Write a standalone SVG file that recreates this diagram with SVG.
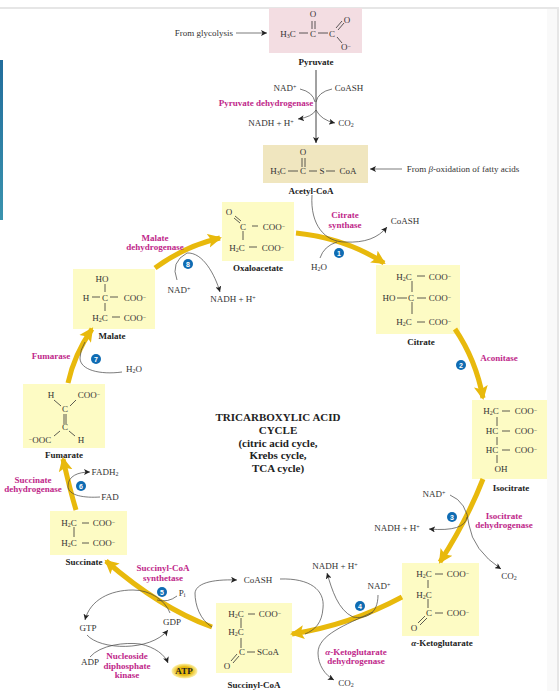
<svg xmlns="http://www.w3.org/2000/svg" width="559" height="691" viewBox="0 0 559 691">
<style>
text{font-family:"Liberation Serif",serif;font-size:9px;fill:#333;text-anchor:middle}
.n{font-weight:bold;fill:#222}
.e{font-weight:bold;fill:#c0278a}
.t{font-weight:bold;fill:#222;font-size:11px}
.b{stroke:#333;stroke-width:.8;fill:none}
.c{stroke:#444;stroke-width:.7;fill:none}
.a{stroke:#444;stroke-width:.7;fill:none;marker-end:url(#h)}
.y{stroke:#e8b90c;stroke-width:5;fill:none;marker-end:url(#m)}
.d{fill:#0f6cb3}
.w{fill:#fff;font-weight:bold;font-size:7px;font-family:"Liberation Sans",sans-serif}
.u{font-size:6px}
.s{fill:#fdfbc4}
</style>
<defs>
<marker id="h" markerUnits="userSpaceOnUse" markerWidth="7" markerHeight="6" refX="6" refY="3" orient="auto"><path d="M0 0L6 3L0 6L1.5 3Z" fill="#222"/></marker>
<marker id="m" markerUnits="userSpaceOnUse" markerWidth="16" markerHeight="16" refX="12" refY="8" orient="auto"><path d="M0 1L14 8L0 15L3 8Z" fill="#e8b90c"/></marker>
<radialGradient id="g"><stop offset=".55" stop-color="#e8b90c"/><stop offset="1" stop-color="#fdf3b0"/></radialGradient>
<linearGradient id="bl" x1="0" y1="0" x2="0" y2="1"><stop offset="0" stop-color="#226d9c"/><stop offset="1" stop-color="#3a93ae"/></linearGradient>
</defs>
<rect width="559" height="691" fill="#fff"/>
<rect x="547" y="8" width="12" height="683" fill="#f9f9f9"/>
<rect x="557" y="8" width="2" height="683" fill="#e6e6e6"/>
<rect x="0" y="7" width="559" height="2" fill="#e6e6e6"/>
<rect x="0" y="60" width="3" height="160" fill="url(#bl)"/>
<g id="pyruvate">
<rect x="269" y="8" width="93" height="45" fill="#f3dde2"/>
<text x="288" y="37">H<tspan class="u" dy="1">3</tspan><tspan dy="-1">C</tspan></text>
<text x="313" y="37">C</text><text x="332" y="37">C</text>
<text x="313" y="17">O</text><text x="347" y="23">O</text><text x="346" y="50">O<tspan class="u" dy="-2">−</tspan></text>
<path class="b" d="M299 33H308M318 33H328M312 21V29M315 21V29M336 28L342 21M338 30L344 23M337 37L342 43"/>
<text class="n" x="316" y="65">Pyruvate</text>
</g>
<g id="acetyl-coa">
<rect x="263" y="145" width="105" height="38" fill="#f0e6bf"/>
<text x="278" y="174">H<tspan class="u" dy="1">3</tspan><tspan dy="-1">C</tspan></text>
<text x="303" y="174">C</text><text x="322" y="174">S</text><text x="348" y="174">CoA</text><text x="303" y="155">O</text>
<path class="b" d="M288 171H298M309 171H317M326 171H335M302 158V167M305 158V167"/>
<text class="n" x="311" y="194">Acetyl-CoA</text>
</g>
<g id="oxaloacetate">
<rect x="222" y="202" width="72" height="59" class="s"/>
<text x="229" y="215">O</text><text x="243" y="230">C</text><text x="274" y="230">COO<tspan class="u" dy="-2">−</tspan></text>
<text x="237" y="251">H<tspan class="u" dy="1">2</tspan><tspan dy="-1">C</tspan></text><text x="273" y="251">COO<tspan class="u" dy="-2">−</tspan></text>
<path class="b" d="M234 218L240 223M235 216L241 221M252 226H258M243 231V240M249 247H257"/>
<text class="n" x="258" y="271">Oxaloacetate</text>
</g>
<g id="citrate">
<rect x="376" y="265" width="84" height="69" class="s"/>
<text x="404" y="280">H<tspan class="u" dy="1">2</tspan><tspan dy="-1">C</tspan></text><text x="440" y="280">COO<tspan class="u" dy="-2">−</tspan></text>
<text x="389" y="301">HO</text><text x="411" y="301">C</text><text x="440" y="301">COO<tspan class="u" dy="-2">−</tspan></text>
<text x="404" y="325">H<tspan class="u" dy="1">2</tspan><tspan dy="-1">C</tspan></text><text x="440" y="325">COO<tspan class="u" dy="-2">−</tspan></text>
<path class="b" d="M417 276H425M412 281V292M397 298H407M417 298H426M412 302V314M417 322H425"/>
<text class="n" x="421" y="345">Citrate</text>
</g>
<g id="isocitrate">
<rect x="472" y="400" width="75" height="79" class="s"/>
<text x="491" y="414">H<tspan class="u" dy="1">2</tspan><tspan dy="-1">C</tspan></text><text x="526" y="414">COO<tspan class="u" dy="-2">−</tspan></text>
<text x="492" y="434">HC</text><text x="526" y="434">COO<tspan class="u" dy="-2">−</tspan></text>
<text x="492" y="453">HC</text><text x="526" y="453">COO<tspan class="u" dy="-2">−</tspan></text>
<text x="501" y="472">OH</text>
<path class="b" d="M502 411H510M497 417V426M502 431H510M497 437V445M502 450H510M497 455V463"/>
<text class="n" x="511" y="491">Isocitrate</text>
</g>
<g id="a-ketoglutarate">
<rect x="402" y="563" width="77" height="73" class="s"/>
<text x="424" y="577">H<tspan class="u" dy="1">2</tspan><tspan dy="-1">C</tspan></text><text x="458" y="577">COO<tspan class="u" dy="-2">−</tspan></text>
<text x="424" y="598">H<tspan class="u" dy="1">2</tspan><tspan dy="-1">C</tspan></text>
<text x="429" y="616">C</text><text x="458" y="616">COO<tspan class="u" dy="-2">−</tspan></text><text x="414" y="631">O</text>
<path class="b" d="M435 574H443M428 580V588M428 599V608M435 613H443M418 623L425 616M420 625L427 618"/>
<text class="n" x="442" y="646"><tspan font-style="italic">α</tspan>-Ketoglutarate</text>
</g>
<g id="succinyl-coa">
<rect x="216" y="603" width="76" height="70" class="s"/>
<text x="236" y="617">H<tspan class="u" dy="1">2</tspan><tspan dy="-1">C</tspan></text><text x="270" y="617">COO<tspan class="u" dy="-2">−</tspan></text>
<text x="236" y="635">H<tspan class="u" dy="1">2</tspan><tspan dy="-1">C</tspan></text>
<text x="242" y="655">C</text><text x="268" y="655">SCoA</text><text x="227" y="669">O</text>
<path class="b" d="M248 614H255M241 618V628M241 638V648M247 652H255M231 661L237 654M233 663L239 656"/>
<text class="n" x="254" y="688">Succinyl-CoA</text>
</g>
<g id="succinate">
<rect x="50" y="511" width="77" height="44" class="s"/>
<text x="69" y="526">H<tspan class="u" dy="1">2</tspan><tspan dy="-1">C</tspan></text><text x="104" y="526">COO<tspan class="u" dy="-2">−</tspan></text>
<text x="69" y="546">H<tspan class="u" dy="1">2</tspan><tspan dy="-1">C</tspan></text><text x="104" y="546">COO<tspan class="u" dy="-2">−</tspan></text>
<path class="b" d="M82 523H89M74 527V537M82 543H89"/>
<text class="n" x="84" y="565">Succinate</text>
</g>
<g id="fumarate">
<rect x="23" y="384" width="82" height="64" class="s"/>
<text x="51" y="398">H</text><text x="89" y="398">COO<tspan class="u" dy="-2">−</tspan></text>
<text x="65" y="412">C</text><text x="65" y="430">C</text>
<text x="40" y="443"><tspan class="u" dy="-2">−</tspan><tspan dy="2">OOC</tspan></text><text x="81" y="443">H</text>
<path class="b" d="M54 400L61 406M70 406L76 400M64 414V424M66 414V424M60 431L54 436M69 431L75 436"/>
<text class="n" x="64" y="458">Fumarate</text>
</g>
<g id="malate">
<rect x="73" y="269" width="82" height="60" class="s"/>
<text x="102" y="282">HO</text><text x="86" y="301">H</text><text x="105" y="301">C</text><text x="135" y="301">COO<tspan class="u" dy="-2">−</tspan></text>
<text x="100" y="321">H<tspan class="u" dy="1">2</tspan><tspan dy="-1">C</tspan></text><text x="135" y="321">COO<tspan class="u" dy="-2">−</tspan></text>
<path class="b" d="M105 284V292M92 297H100M110 297H118M105 303V311M112 317H120"/>
<text class="n" x="112" y="339">Malate</text>
</g>
<g id="connectors">
<path class="y" d="M155 268Q185 246 220 238"/>
<path class="y" d="M296 233Q345 238 384 263"/>
<path class="y" d="M455 329Q476 360 483 398"/>
<path class="y" d="M483 479Q467 520 440 562"/>
<path class="y" d="M402 597Q350 625 292 634"/>
<path class="y" d="M212 627Q160 608 106 561"/>
<path class="y" d="M76 510Q70 490 63 459"/>
<path class="y" d="M68 383Q74 355 92 329"/>
<path class="a" d="M236 33H267"/>
<path class="a" style="stroke-width:1" d="M316 70V143"/>
<path class="c" d="M300 89Q313 92 315 102"/>
<path class="c" d="M332 89Q318 92 316 102"/>
<path class="a" d="M316 110Q312 117 298 119"/>
<path class="a" d="M316 110Q321 120 335 123"/>
<path class="a" d="M402 169H370"/>
<path class="a" d="M312 195C310 225 325 242 345 242C365 243 378 238 387 227"/>
<path class="c" d="M320 258Q324 246 337 242"/>
<path class="c" d="M450 495Q467 502 469 525"/>
<path class="a" d="M469 525Q473 550 501 569"/>
<path class="a" d="M467 517Q465 532 429 529"/>
<path class="a" d="M378 595C378 615 365 619 353 617C338 610 332 590 327 573"/>
<path class="a" d="M373 612C345 625 318 635 318 653C318 665 325 675 334 680"/>
<path class="c" d="M280 579C310 578 325 590 323 608C322 623 315 630 305 634"/>
<path class="a" d="M212 627C200 620 195 605 195 593C196 584 210 579 237 580"/>
<path class="a" d="M170 613C165 600 150 590 133 590C110 590 90 600 85 620"/>
<path class="c" d="M177 596Q168 603 157 600"/>
<path class="a" d="M87 635C100 650 150 652 168 630"/>
<path class="a" d="M90 657C100 645 125 642 140 644C155 647 165 655 168 663"/>
<path class="a" d="M100 497C85 498 68 496 68 486C68 476 78 472 90 472"/>
<path class="c" d="M122 372C100 375 80 370 80 358Q80 350 85 342"/>
<path class="c" d="M177 280Q170 262 187 253"/>
<path class="a" d="M187 253C203 252 215 275 220 292"/>
</g>
<text x="204" y="36">From glycolysis</text>
<text x="285" y="91">NAD<tspan class="u" dy="-2">+</tspan></text>
<text x="349" y="91">CoASH</text>
<text class="e" x="266" y="106">Pyruvate dehydrogenase</text>
<text x="271" y="126">NADH + H<tspan class="u" dy="-2">+</tspan></text>
<text x="346" y="126">CO<tspan class="u" dy="1">2</tspan></text>
<text x="463" y="172">From <tspan font-style="italic">β</tspan>-oxidation of fatty acids</text>
<text class="e" x="345" y="218">Citrate</text><text class="e" x="345" y="228">synthase</text>
<text x="405" y="224">CoASH</text>
<text x="319" y="270">H<tspan class="u" dy="1">2</tspan><tspan dy="-1">O</tspan></text>
<text x="233" y="302">NADH + H<tspan class="u" dy="-2">+</tspan></text>
<circle class="d" cx="339" cy="253" r="5"/><text class="w" x="339" y="255.5">1</text>
<text class="e" x="499" y="361">Aconitase</text>
<circle class="d" cx="461" cy="365" r="5"/><text class="w" x="461" y="367.5">2</text>
<text x="434" y="497">NAD<tspan class="u" dy="-2">+</tspan></text>
<text class="e" x="504" y="519">Isocitrate</text><text class="e" x="504" y="528">dehydrogenase</text>
<text x="397" y="531">NADH + H<tspan class="u" dy="-2">+</tspan></text>
<circle class="d" cx="452" cy="517" r="5"/><text class="w" x="452" y="519.5">3</text>
<text x="509" y="579">CO<tspan class="u" dy="1">2</tspan></text>
<text x="335" y="569">NADH + H<tspan class="u" dy="-2">+</tspan></text>
<text x="379" y="589">NAD<tspan class="u" dy="-2">+</tspan></text>
<circle class="d" cx="360" cy="606" r="5"/><text class="w" x="360" y="608.5">4</text>
<text class="e" x="356" y="655"><tspan font-style="italic">α</tspan>-Ketoglutarate</text><text class="e" x="356" y="664">dehydrogenase</text>
<text x="346" y="686">CO<tspan class="u" dy="1">2</tspan></text>
<text x="258" y="583">CoASH</text>
<text class="e" x="163" y="571">Succinyl-CoA</text><text class="e" x="163" y="581">synthetase</text>
<circle class="d" cx="162" cy="592" r="5"/><text class="w" x="162" y="594.5">5</text>
<text x="182" y="596">P<tspan class="u" dy="1">i</tspan></text>
<text x="172" y="625">GDP</text><text x="88" y="631">GTP</text>
<text x="90" y="665">ADP</text>
<text class="e" x="127" y="659">Nucleoside</text><text class="e" x="127" y="669">diphosphate</text><text class="e" x="127" y="678">kinase</text>
<g id="atp"><ellipse cx="184.5" cy="671" rx="13" ry="7.5" fill="url(#g)"/><text class="n" x="184" y="674">ATP</text></g>
<text class="e" x="33" y="483">Succinate</text><text class="e" x="33" y="492">dehydrogenase</text>
<circle class="d" cx="81" cy="486" r="5"/><text class="w" x="81" y="488.5">6</text>
<text x="105" y="475">FADH<tspan class="u" dy="1">2</tspan></text><text x="110" y="500">FAD</text>
<text class="e" x="51" y="359">Fumarase</text>
<circle class="d" cx="96" cy="359" r="5"/><text class="w" x="96" y="361.5">7</text>
<text x="134" y="372">H<tspan class="u" dy="1">2</tspan><tspan dy="-1">O</tspan></text>
<text class="e" x="155" y="241">Malate</text><text class="e" x="155" y="250">dehydrogenase</text>
<circle class="d" cx="188" cy="264" r="5"/><text class="w" x="188" y="266.5">8</text>
<text x="179" y="293">NAD<tspan class="u" dy="-2">+</tspan></text>
<g id="title">
<text class="t" x="278" y="421">TRICARBOXYLIC ACID</text>
<text class="t" x="278" y="434">CYCLE</text>
<text class="t" x="278" y="447">(citric acid cycle,</text>
<text class="t" x="278" y="459">Krebs cycle,</text>
<text class="t" x="278" y="472">TCA cycle)</text>
</g>
</svg>
